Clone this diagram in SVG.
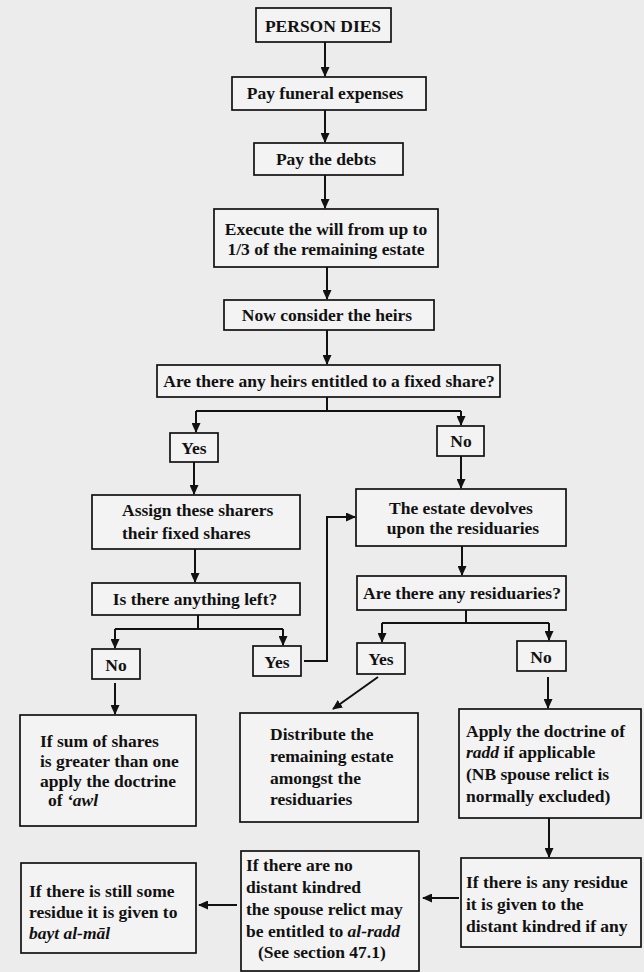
<svg xmlns="http://www.w3.org/2000/svg" width="644" height="972" viewBox="0 0 644 972">
<style>
.bg{fill:#ececec}
.box{fill:#f3f3f3;stroke:#111;stroke-width:1.7}
.t{font-family:"Liberation Serif","Times New Roman",serif;font-size:17.5px;font-weight:bold;fill:#111}
.c{text-anchor:middle}
.i{font-style:italic}
.ln{fill:none;stroke:#111;stroke-width:2}
.ar{fill:none;stroke:#111;stroke-width:2;marker-end:url(#ah)}
</style>
<defs>
<marker id="ah" markerUnits="userSpaceOnUse" markerWidth="10" markerHeight="9" refX="9" refY="4.5" orient="auto">
<path d="M0,0 L10,4.5 L0,9 z" fill="#111"/>
</marker>
</defs>
<rect class="bg" x="0" y="0" width="644" height="972"/>

<g id="n-person-dies"><rect class="box" x="256" y="8" width="135" height="34"/><text class="t c" x="323" y="32">PERSON DIES</text></g>
<g id="n-funeral"><rect class="box" x="232" y="77" width="194" height="33"/><text class="t c" x="325" y="99">Pay funeral expenses</text></g>
<g id="n-debts"><rect class="box" x="254" y="143" width="149" height="32"/><text class="t c" x="326" y="165">Pay the debts</text></g>
<g id="n-will"><rect class="box" x="214" y="209" width="224" height="58"/><text class="t c" x="326" y="235">Execute the will from up to</text><text class="t c" x="326" y="255">1/3 of the remaining estate</text></g>
<g id="n-heirs"><rect class="box" x="224" y="300" width="210" height="30"/><text class="t c" x="327" y="321">Now consider the heirs</text></g>
<g id="n-fixed"><rect class="box" x="157" y="365" width="343" height="32"/><text class="t c" x="329" y="387">Are there any heirs entitled to a fixed share?</text></g>
<g id="n-yes1"><rect class="box" x="170" y="433" width="48" height="29"/><text class="t c" x="194" y="454">Yes</text></g>
<g id="n-no1"><rect class="box" x="437" y="426" width="47" height="30"/><text class="t c" x="461" y="447">No</text></g>
<g id="n-assign"><rect class="box" x="92" y="495" width="208" height="54"/><text class="t" x="122" y="516">Assign these sharers</text><text class="t" x="122" y="539">their fixed shares</text></g>
<g id="n-estate"><rect class="box" x="356" y="489" width="210" height="57"/><text class="t c" x="461" y="514">The estate devolves</text><text class="t c" x="463" y="534">upon the residuaries</text></g>
<g id="n-left"><rect class="box" x="92" y="583" width="208" height="32"/><text class="t c" x="195" y="605">Is there anything left?</text></g>
<g id="n-resid"><rect class="box" x="357" y="576" width="209" height="34"/><text class="t c" x="462" y="599">Are there any residuaries?</text></g>
<g id="n-no2"><rect class="box" x="92" y="649" width="48" height="30"/><text class="t c" x="116" y="671">No</text></g>
<g id="n-yes2"><rect class="box" x="253" y="646" width="48" height="30"/><text class="t c" x="277" y="668">Yes</text></g>
<g id="n-yes3"><rect class="box" x="357" y="643" width="48" height="31"/><text class="t c" x="381" y="665">Yes</text></g>
<g id="n-no3"><rect class="box" x="517" y="641" width="49" height="30"/><text class="t c" x="541" y="663">No</text></g>
<g id="n-awl"><rect class="box" x="20" y="715" width="176" height="111"/><text class="t" x="40" y="747">If sum of shares</text><text class="t" x="40" y="767">is greater than one</text><text class="t" x="40" y="787">apply the doctrine</text><text class="t" x="48" y="806">of <tspan class="i">‘awl</tspan></text></g>
<g id="n-distribute"><rect class="box" x="240" y="713" width="178" height="109"/><text class="t" x="270" y="740">Distribute the</text><text class="t" x="270" y="762">remaining estate</text><text class="t" x="270" y="784">amongst the</text><text class="t" x="270" y="805">residuaries</text></g>
<g id="n-radd"><rect class="box" x="459" y="709" width="182" height="109"/><text class="t" x="466" y="737">Apply the doctrine of</text><text class="t" x="466" y="758"><tspan class="i">radd</tspan> if applicable</text><text class="t" x="466" y="780">(NB spouse relict is</text><text class="t" x="466" y="802">normally excluded)</text></g>
<g id="n-kindred"><rect class="box" x="461" y="858" width="180" height="89"/><text class="t" x="466" y="888">If there is any residue</text><text class="t" x="466" y="910">it is given to the</text><text class="t" x="466" y="932">distant kindred if any</text></g>
<g id="n-spouse"><rect class="box" x="241" y="851" width="178" height="120"/><text class="t" x="246" y="871">If there are no</text><text class="t" x="246" y="893">distant kindred</text><text class="t" x="246" y="915">the spouse relict may</text><text class="t" x="246" y="937">be entitled to <tspan class="i">al-radd</tspan></text><text class="t" x="258" y="958">(See section 47.1)</text></g>
<g id="n-bayt"><rect class="box" x="21" y="863" width="175" height="90"/><text class="t" x="29" y="897">If there is still some</text><text class="t" x="29" y="918">residue it is given to</text><text class="t" x="29" y="939"><tspan class="i">bayt al-māl</tspan></text></g>

<g id="connectors">
<line class="ar" x1="325" y1="42" x2="325" y2="76"/>
<line class="ar" x1="325" y1="110" x2="325" y2="142"/>
<line class="ar" x1="325" y1="175" x2="325" y2="208"/>
<line class="ar" x1="327" y1="267" x2="327" y2="299"/>
<line class="ar" x1="327" y1="330" x2="327" y2="364"/>
<polyline class="ln" points="327,397 327,411"/>
<polyline class="ln" points="196,411 461,411"/>
<line class="ar" x1="196" y1="411" x2="196" y2="432"/>
<line class="ar" x1="461" y1="411" x2="461" y2="425"/>
<line class="ar" x1="194" y1="462" x2="194" y2="494"/>
<line class="ar" x1="461" y1="456" x2="461" y2="488"/>
<line class="ar" x1="195" y1="549" x2="195" y2="582"/>
<line class="ar" x1="462" y1="546" x2="462" y2="575"/>
<polyline class="ln" points="198,615 198,629"/>
<polyline class="ln" points="115,629 283,629"/>
<line class="ar" x1="115" y1="629" x2="115" y2="648"/>
<line class="ar" x1="283" y1="629" x2="283" y2="645"/>
<polyline class="ar" points="304,661 327,661 327,517 355,517"/>
<polyline class="ln" points="466,610 466,623"/>
<polyline class="ln" points="382,623 549,623"/>
<line class="ar" x1="382" y1="623" x2="382" y2="642"/>
<line class="ar" x1="549" y1="623" x2="549" y2="640"/>
<line class="ar" x1="115" y1="683" x2="115" y2="714"/>
<line class="ar" x1="378" y1="677" x2="333" y2="709"/>
<line class="ar" x1="548" y1="677" x2="548" y2="708"/>
<line class="ar" x1="549" y1="818" x2="549" y2="857"/>
<line class="ar" x1="459" y1="898" x2="423" y2="898"/>
<line class="ar" x1="237" y1="905" x2="199" y2="905"/>
</g>
</svg>
